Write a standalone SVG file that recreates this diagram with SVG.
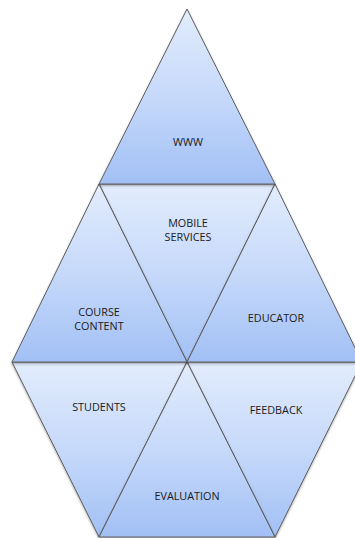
<svg xmlns="http://www.w3.org/2000/svg" width="355" height="538" viewBox="0 0 355 538">
  <defs>
    <linearGradient id="g" x1="0" y1="0" x2="0" y2="1">
      <stop offset="0" stop-color="#e2ecfc"/>
      <stop offset="0.5" stop-color="#c6d9fa"/>
      <stop offset="1" stop-color="#a2c0f5"/>
    </linearGradient>
    <filter id="sh" x="-10%" y="-10%" width="120%" height="125%">
      <feDropShadow dx="0" dy="1.2" stdDeviation="0.8" flood-color="#000" flood-opacity="0.35"/>
    </filter>
  </defs>
  <style>
    .tri { fill: url(#g); stroke: #5e5e5e; stroke-width: 1; stroke-linejoin: miter; filter: url(#sh); }
    .lbl { font-family: "Open Sans", "Liberation Sans", sans-serif; font-size: 10.8px; fill: #1a1a1a; text-anchor: middle; }
  </style>
  <rect width="355" height="538" fill="#ffffff"/>
  <g id="students">
    <polygon class="tri" points="12,362 187,362 99,537"/>
    <text class="lbl" x="99" y="411">STUDENTS</text>
  </g>
  <g id="feedback">
    <polygon class="tri" points="187,362 362,362 275,537"/>
    <text class="lbl" x="276" y="414">FEEDBACK</text>
  </g>
  <g id="evaluation">
    <polygon class="tri" points="187,362 275,537 99,537"/>
    <text class="lbl" x="187" y="500">EVALUATION</text>
  </g>
  <g id="mobile-services">
    <polygon class="tri" points="99,184 275,184 187,362"/>
    <text class="lbl" x="188" y="227">MOBILE</text>
    <text class="lbl" x="188" y="241">SERVICES</text>
  </g>
  <g id="course-content">
    <polygon class="tri" points="99,184 187,362 12,362"/>
    <text class="lbl" x="99" y="316">COURSE</text>
    <text class="lbl" x="99" y="330">CONTENT</text>
  </g>
  <g id="educator">
    <polygon class="tri" points="275,184 362,362 187,362"/>
    <text class="lbl" x="276" y="322">EDUCATOR</text>
  </g>
  <g id="www">
    <polygon class="tri" points="187,9 275,184 99,184"/>
    <text class="lbl" x="188" y="146">WWW</text>
  </g>
  <g id="connectors"></g>
</svg>
